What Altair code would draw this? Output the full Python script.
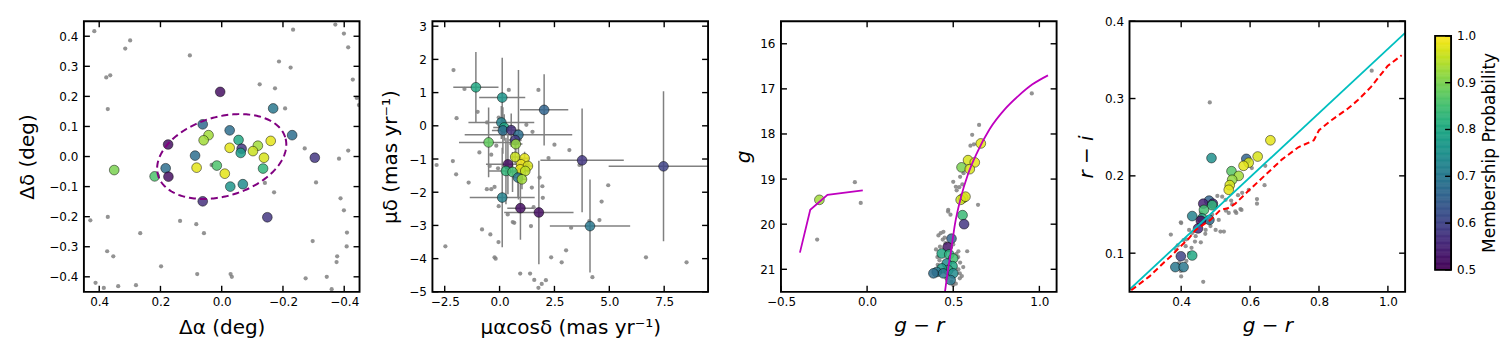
import altair as alt
import pandas as pd
import numpy as np

W, H = 276, 271
FONT = "DejaVu Sans"
GRAY = "#808080"
MINUS = "\u2212"

# ---------------- Panel 1 : sky positions ----------------
P1_FIELD_X = [0.416, 0.299, 0.315, 0.377, 0.364, 0.104, 0.372, 0.372, 0.429, 0.266, 0.374, 0.354, 0.412,
              0.385, 0.338, 0.280, 0.198, 0.136, 0.083, 0.058, 0.080, -0.029, -0.033, -0.124, -0.174,
              -0.187, -0.225, -0.233, -0.207, -0.271, -0.308, -0.141, -0.171, -0.297, -0.274, -0.343,
              -0.359, -0.375, -0.377, -0.388, -0.399, -0.408, -0.409, -0.383, -0.413, -0.413, -0.399,
              -0.371, -0.428, -0.441, -0.448, 0.033]
P1_FIELD_Y = [0.417, 0.386, 0.359, 0.263, 0.270, 0.336, 0.158, -0.201, -0.212, -0.255, -0.315, -0.332,
              -0.420, -0.437, -0.431, -0.428, -0.365, -0.214, -0.225, -0.255, -0.391, -0.391, -0.400,
              0.240, 0.227, 0.316, 0.296, 0.422, 0.160, 0.027, -0.086, -0.088, -0.119, -0.281, -0.405,
              -0.400, -0.441, -0.351, -0.332, -0.139, -0.179, -0.299, -0.253, -0.007, 0.020, 0.363,
              0.409, 0.439, 0.256, 0.195, 0.171, -0.028]
P1_MEM_X = [0.005, -0.168, 0.062, -0.026, -0.230, 0.043, 0.059, -0.055, -0.160, -0.118, 0.175, -0.026,
            -0.065, -0.102, -0.062, 0.087, -0.138, -0.304, 0.351, 0.082, 0.016, 0.183, -0.135, 0.219,
            0.174, -0.010, -0.028, -0.069, 0.062, -0.149]
P1_MEM_Y = [0.215, 0.160, 0.107, 0.087, 0.071, 0.071, 0.054, 0.055, 0.052, 0.036, 0.040, 0.029, 0.026,
            0.018, 0.012, 0.003, -0.004, -0.004, -0.045, -0.037, -0.030, -0.039, -0.040, -0.066, -0.067,
            -0.057, -0.100, -0.092, -0.149, -0.202]
P1_MEM_P = [0.52, 0.70, 0.67, 0.68, 0.68, 0.93, 0.93, 0.80, 0.98, 0.93, 0.52, 0.98, 0.58, 0.96, 0.78,
            0.68, 0.97, 0.58, 0.90, 0.98, 0.86, 0.68, 0.83, 0.86, 0.52, 0.98, 0.76, 0.74, 0.57, 0.58]
ELLIPSE_CENTER = [0.0, 0.0]
ELLIPSE_AXES = [0.217, 0.1315]
ELLIPSE_ANGLE = 17.2

# ---------------- Panel 2 : proper motions ----------------
P2_FIELD_X = [-2.1, -1.6, -1.96, -1.0, 0.42, 1.77, 1.22, 1.5, 2.5, 3.18, 2.23, 4.95, 4.65, 3.64, 1.95,
              1.97, 1.55, 1.47, 1.82, -2.87, -2.13, -1.98, -1.41, -0.92, -0.38, -0.45, -0.57, -0.04,
              -0.15, -0.58, -0.38, -0.23, -0.04, 0.37, 0.67, 1.43, -0.8, -0.42, -0.05, -0.23, -0.18,
              -2.47, 2.35, 2.83, 3.03, 3.26, 4.09, 4.55, 4.23, 1.39, 1.58, 1.77, 1.92, 2.11, 0.94, 6.67,
              8.52, -0.07, 0.6]
P2_FIELD_Y = [1.68, 1.11, 0.23, 0.42, 1.08, 1.08, 0.03, -0.18, -0.57, -0.73, -0.97, -1.79, -2.28, -1.18,
              -1.82, -2.17, -2.45, -1.86, -1.56, -1.18, -1.06, -1.46, -1.71, -0.8, -0.87, -1.21, 0.1,
              0.25, -0.6, -1.91, -1.91, -1.84, -2.42, -2.67, -2.92, -3.02, -3.12, -3.27, -3.5, -3.96,
              -4.0, -3.63, -3.96, -4.11, -3.75, -3.07, -2.87, -2.84, -4.56, -4.45, -4.64, -4.88, -4.76,
              -4.65, -4.45, -3.96, -4.11, -1.28, -2.9]
P2_MEM_X = [-1.08, 0.12, 2.03, 0.08, 0.21, 0.15, 0.53, 0.86, -0.5, 0.71, 0.74, 0.71, 1.14, 0.98, 1.29,
            0.94, 1.17, 0.38, 0.29, 0.59, 0.84, 1.02, 0.12, 0.95, 1.79, 3.76, 4.12, 7.47]
P2_MEM_Y = [1.16, 0.85, 0.48, 0.10, -0.05, -0.14, -0.13, -0.27, -0.50, -0.43, -0.55, -0.94, -0.98, -1.16,
            -1.21, -1.31, -1.36, -1.16, -1.36, -1.39, -1.56, -1.61, -2.16, -2.48, -2.61, -1.04, -3.02,
            -1.22]
P2_MEM_XERR = [1.03, 1.05, 1.10, 1.50, 0.50, 0.50, 0.40, 2.45, 1.35, 0.30, 0.30, 0.20, 0.20, 0.20, 0.20,
               0.20, 0.20, 1.00, 0.80, 0.30, 0.20, 0.20, 1.48, 0.60, 1.58, 1.90, 1.83, 2.50]
P2_MEM_YERR = [1.06, 1.20, 1.07, 0.50, 0.40, 0.70, 0.50, 1.95, 1.05, 0.30, 0.30, 0.20, 0.20, 0.20, 0.20,
               0.20, 0.20, 0.90, 1.00, 0.60, 0.60, 0.30, 1.50, 0.95, 1.56, 1.56, 1.40, 2.26]
P2_MEM_P = [0.80, 0.76, 0.66, 0.72, 0.80, 0.68, 0.57, 0.68, 0.88, 0.58, 0.92, 0.96, 0.98, 0.99, 0.97,
            0.98, 0.95, 0.52, 0.83, 0.85, 0.70, 0.93, 0.72, 0.52, 0.52, 0.58, 0.70, 0.60]

# ---------------- Panel 3 : CMD ----------------
P3_FIELD_X = [0.956, 0.65, 0.61, 0.60, 0.62, 0.50, 0.515, 0.535, 0.553, 0.644, 0.471, 0.484, 0.443, 0.427,
              0.414, 0.439, 0.581, 0.40, 0.408, 0.519, 0.529, 0.538, 0.558, 0.538, 0.515, 0.49, 0.423,
              -0.071, -0.037, -0.29, 0.47, 0.52, 0.455, 0.42, 0.41, 0.53, 0.55, 0.50, 0.45, 0.50, 0.54,
              0.46, 0.53, 0.56, 0.54]
P3_FIELD_G = [17.10, 17.80, 18.02, 18.26, 18.23, 19.06, 19.17, 19.18, 19.12, 19.57, 19.68, 19.79, 20.17,
              20.20, 20.25, 20.34, 20.60, 20.56, 20.73, 20.66, 20.73, 21.09, 20.95, 21.20, 21.32, 21.28,
              20.50, 19.07, 19.53, 20.34, 19.72, 19.25, 20.42, 20.80, 20.90, 21.00, 21.15, 21.35, 20.30,
              20.45, 20.85, 21.20, 20.60, 18.87, 18.95]
P3_MEM_X = [0.66, 0.586, 0.625, 0.548, 0.596, 0.558, 0.543, 0.571, -0.277, 0.554, 0.563, 0.49, 0.467,
            0.433, 0.477, 0.50, 0.462, 0.496, 0.471, 0.433, 0.404, 0.385, 0.442, 0.50, 0.485]
P3_MEM_G = [18.21, 18.58, 18.63, 18.74, 18.78, 19.42, 19.46, 19.39, 19.46, 19.80, 20.00, 20.32, 20.51,
            20.65, 20.67, 20.76, 20.87, 20.93, 21.02, 20.98, 21.06, 21.09, 21.09, 21.09, 21.24]
P3_MEM_P = [0.98, 0.97, 0.98, 0.90, 0.97, 0.97, 0.96, 0.97, 0.93, 0.84, 0.58, 0.66, 0.53, 0.80, 0.82,
            0.85, 0.74, 0.80, 0.82, 0.78, 0.70, 0.68, 0.70, 0.74, 0.70]
ISO_MS_X = [0.452, 0.47, 0.487, 0.51, 0.545, 0.585, 0.64, 0.71, 0.80, 0.88, 0.96, 1.05]
ISO_MS_G = [21.5, 21.0, 20.6, 20.0, 19.4, 18.9, 18.4, 17.9, 17.45, 17.15, 16.9, 16.7]
ISO_HB_X = [-0.39, -0.33, -0.23, -0.025]
ISO_HB_G = [20.63, 19.68, 19.35, 19.25]

# ---------------- Panel 4 : colour-colour ----------------
P4_FIELD_X = [0.953, 0.483, 0.464, 0.37, 0.399, 0.432, 0.407, 0.413, 0.423, 0.457, 0.442, 0.471, 0.485,
              0.50, 0.514, 0.524, 0.509, 0.538, 0.557, 0.572, 0.548, 0.529, 0.519, 0.577, 0.596, 0.605,
              0.62, 0.62, 0.644, 0.642, 0.505, 0.399, 0.394, 0.457, 0.423, 0.39, 0.40, 0.43, 0.415, 0.48,
              0.49, 0.53, 0.545, 0.565, 0.50, 0.47, 0.44, 0.385, 0.40, 0.415, 0.575, 0.56]
P4_FIELD_Y = [0.336, 0.295, 0.063, 0.124, 0.14, 0.126, 0.117, 0.109, 0.10, 0.114, 0.122, 0.13, 0.135,
              0.13, 0.128, 0.128, 0.143, 0.152, 0.154, 0.157, 0.163, 0.169, 0.173, 0.178, 0.182, 0.21,
              0.17, 0.164, 0.213, 0.188, 0.174, 0.077, 0.087, 0.152, 0.13, 0.11, 0.139, 0.107, 0.118,
              0.14, 0.15, 0.155, 0.168, 0.175, 0.16, 0.125, 0.115, 0.105, 0.07, 0.09, 0.156, 0.152]
P4_MEM_X = [0.659, 0.622, 0.589, 0.596, 0.581, 0.488, 0.546, 0.567, 0.548, 0.541, 0.538, 0.481, 0.464,
            0.492, 0.49, 0.466, 0.432, 0.461, 0.482, 0.457, 0.449, 0.399, 0.432, 0.383, 0.407]
P4_MEM_Y = [0.246, 0.225, 0.222, 0.217, 0.213, 0.223, 0.206, 0.200, 0.195, 0.188, 0.182, 0.168, 0.164,
            0.164, 0.162, 0.156, 0.148, 0.145, 0.143, 0.142, 0.132, 0.096, 0.097, 0.082, 0.082]
P4_MEM_P = [0.98, 0.97, 0.66, 0.97, 0.98, 0.75, 0.87, 0.93, 0.92, 0.97, 0.98, 0.66, 0.55, 0.56, 0.83,
            0.85, 0.72, 0.80, 0.68, 0.52, 0.56, 0.60, 0.80, 0.70, 0.70]
CYAN_X = [0.25, 1.05]
CYAN_Y = [0.053, 0.385]
RED_X = [0.255, 0.308, 0.35, 0.375, 0.394, 0.42, 0.442, 0.485, 0.514, 0.535, 0.557, 0.596, 0.644, 0.692,
         0.74, 0.785, 0.793, 0.80, 0.836, 0.884, 0.913, 0.951, 0.999, 1.04]
RED_Y = [0.052, 0.07, 0.088, 0.098, 0.107, 0.118, 0.13, 0.143, 0.156, 0.158, 0.164, 0.181, 0.201, 0.221,
         0.237, 0.246, 0.253, 0.259, 0.272, 0.287, 0.298, 0.315, 0.342, 0.356]

CBAR_TICKS = [0.5, 0.6, 0.7, 0.8, 0.9, 1.0]
CBAR_DOMAIN = [0.4531, 1.0314]

CSCALE = alt.Scale(scheme="viridis", domain=[0.5, 1.0])


def ax_x(values, fmt, title, italic=False, ty=36):
    return alt.Axis(values=values, format=fmt, title=title, ticks=False, domain=False, grid=False,
                    labelFlush=False, labelOverlap=False, labelPadding=5, labelFontSize=12,
                    labelFont=FONT, labelColor="black",
                    labelExpr="replace(datum.label, '-', '" + MINUS + "')",
                    titleFontSize=20, titleFont=FONT, titleFontWeight="normal", titleColor="black",
                    titleFontStyle="italic" if italic else "normal",
                    titleX=W / 2, titleY=ty, titleBaseline="middle", titleAlign="center", titleAngle=0)


def ax_y(values, fmt, title, tx, italic=False):
    return alt.Axis(values=values, format=fmt, title=title, ticks=False, domain=False, grid=False,
                    labelFlush=False, labelOverlap=False, labelPadding=6, labelFontSize=12,
                    labelFont=FONT, labelColor="black",
                    labelExpr="replace(datum.label, '-', '" + MINUS + "')",
                    titleFontSize=20, titleFont=FONT, titleFontWeight="normal", titleColor="black",
                    titleFontStyle="italic" if italic else "normal",
                    titleX=tx, titleY=H / 2, titleBaseline="middle", titleAlign="center", titleAngle=270)


def make_enc(scale, axis, channel):
    def f(field):
        if channel == "x":
            return alt.X(f"{field}:Q", scale=scale, axis=axis)
        return alt.Y(f"{field}:Q", scale=scale, axis=axis)
    return f


def tick_layers(xvals, yvals, X, Y, L=6):
    xt = pd.DataFrame({"v": xvals})
    yt = pd.DataFrame({"v": yvals})
    tk = dict(color="black", strokeWidth=1.4)
    frame = alt.Chart(pd.DataFrame({"k": [0]})).mark_rect(
        fillOpacity=0, stroke="black", strokeWidth=1.9).encode(
        x=alt.value(0), x2=alt.value(W), y=alt.value(0), y2=alt.value(H))
    return [
        alt.Chart(xt).mark_rule(**tk).encode(x=X("v"), y=alt.value(0), y2=alt.value(L)),
        alt.Chart(xt).mark_rule(**tk).encode(x=X("v"), y=alt.value(H), y2=alt.value(H - L)),
        alt.Chart(yt).mark_rule(**tk).encode(y=Y("v"), x=alt.value(0), x2=alt.value(L)),
        alt.Chart(yt).mark_rule(**tk).encode(y=Y("v"), x=alt.value(W), x2=alt.value(W - L)),
        frame,
    ]


def gray_layer(df, X, Y):
    return alt.Chart(df).mark_circle(size=18, color=GRAY, opacity=0.85, clip=True).encode(
        x=X("x"), y=Y("y"))


def member_layer(df, X, Y):
    return alt.Chart(df).mark_circle(size=95, fillOpacity=0.85, stroke="black", strokeWidth=0.6,
                                     strokeOpacity=0.8, clip=True).encode(
        x=X("x"), y=Y("y"), color=alt.Color("p:Q", scale=CSCALE, legend=None))


# ---------- Panel 1 ----------
x1t = [-0.4, -0.2, 0.0, 0.2, 0.4]
y1t = [-0.4, -0.3, -0.2, -0.1, 0.0, 0.1, 0.2, 0.3, 0.4]
X1 = make_enc(alt.Scale(domain=[-0.45, 0.45], reverse=True, nice=False, zero=False),
              ax_x(x1t, ".1f", "\u0394\u03b1 (deg)"), "x")
Y1 = make_enc(alt.Scale(domain=[-0.45, 0.45], nice=False, zero=False),
              ax_y(y1t, ".1f", "\u0394\u03b4 (deg)", -56), "y")
t = np.linspace(0, 2 * np.pi, 241)
th = np.deg2rad(ELLIPSE_ANGLE)
a, b = ELLIPSE_AXES
u = a * np.cos(th) * np.cos(t) - b * np.sin(th) * np.sin(t)
v = a * np.sin(th) * np.cos(t) + b * np.cos(th) * np.sin(t)
ell = pd.DataFrame({"x": ELLIPSE_CENTER[0] - u, "y": ELLIPSE_CENTER[1] + v, "i": np.arange(len(t))})
p1 = alt.layer(
    gray_layer(pd.DataFrame({"x": P1_FIELD_X, "y": P1_FIELD_Y}), X1, Y1),
    member_layer(pd.DataFrame({"x": P1_MEM_X, "y": P1_MEM_Y, "p": P1_MEM_P}), X1, Y1),
    alt.Chart(ell).mark_line(color="#800080", strokeDash=[7, 4], strokeWidth=2).encode(
        x=X1("x"), y=Y1("y"), order="i:Q"),
    *tick_layers(x1t, y1t, X1, Y1),
).properties(width=W, height=H)

# ---------- Panel 2 ----------
x2t = [-2.5, 0.0, 2.5, 5.0, 7.5]
y2t = [-5, -4, -3, -2, -1, 0, 1, 2, 3]
X2 = make_enc(alt.Scale(domain=[-3.06, 9.5], nice=False, zero=False),
              ax_x(x2t, ".1f", "\u03bc\u03b1cos\u03b4 (mas yr\u207b\u00b9)"), "x")
Y2 = make_enc(alt.Scale(domain=[-5.0, 3.15], nice=False, zero=False),
              ax_y(y2t, "d", "\u03bc\u03b4 (mas yr\u207b\u00b9)", -42), "y")
m2 = pd.DataFrame({"x": P2_MEM_X, "y": P2_MEM_Y, "p": P2_MEM_P,
                   "xe": P2_MEM_XERR, "ye": P2_MEM_YERR})
m2["xlo"] = m2.x - m2.xe
m2["xhi"] = m2.x + m2.xe
m2["ylo"] = m2.y - m2.ye
m2["yhi"] = m2.y + m2.ye
p2 = alt.layer(
    gray_layer(pd.DataFrame({"x": P2_FIELD_X, "y": P2_FIELD_Y}), X2, Y2),
    alt.Chart(m2).mark_rule(color=GRAY, strokeWidth=1.5, clip=True).encode(
        x=X2("xlo"), x2="xhi", y=Y2("y")),
    alt.Chart(m2).mark_rule(color=GRAY, strokeWidth=1.5, clip=True).encode(
        x=X2("x"), y=Y2("ylo"), y2="yhi"),
    member_layer(m2, X2, Y2),
    *tick_layers(x2t, y2t, X2, Y2),
).properties(width=W, height=H)

# ---------- Panel 3 ----------
x3t = [-0.5, 0.0, 0.5, 1.0]
y3t = [16, 17, 18, 19, 20, 21]
X3 = make_enc(alt.Scale(domain=[-0.5, 1.1], nice=False, zero=False),
              ax_x(x3t, ".1f", "g \u2212 r", italic=True, ty=34), "x")
Y3 = make_enc(alt.Scale(domain=[15.5, 21.5], reverse=True, nice=False, zero=False),
              ax_y(y3t, "d", "g", -38, italic=True), "y")
ms = pd.DataFrame({"x": ISO_MS_X, "y": ISO_MS_G, "i": range(len(ISO_MS_X))})
hb = pd.DataFrame({"x": ISO_HB_X, "y": ISO_HB_G, "i": range(len(ISO_HB_X))})
p3 = alt.layer(
    gray_layer(pd.DataFrame({"x": P3_FIELD_X, "y": P3_FIELD_G}), X3, Y3),
    member_layer(pd.DataFrame({"x": P3_MEM_X, "y": P3_MEM_G, "p": P3_MEM_P}), X3, Y3),
    alt.Chart(ms).mark_line(color="#bf00bf", strokeWidth=1.8, interpolate="monotone", clip=True).encode(
        x=X3("x"), y=Y3("y"), order="i:Q"),
    alt.Chart(hb).mark_line(color="#bf00bf", strokeWidth=1.8, clip=True).encode(
        x=X3("x"), y=Y3("y"), order="i:Q"),
    *tick_layers(x3t, y3t, X3, Y3),
).properties(width=W, height=H)

# ---------- Panel 4 ----------
x4t = [0.4, 0.6, 0.8, 1.0]
y4t = [0.1, 0.2, 0.3, 0.4]
X4 = make_enc(alt.Scale(domain=[0.25, 1.05], nice=False, zero=False),
              ax_x(x4t, ".1f", "g \u2212 r", italic=True, ty=34), "x")
Y4 = make_enc(alt.Scale(domain=[0.05, 0.4], nice=False, zero=False),
              ax_y(y4t, ".1f", "r \u2212 i", -43, italic=True), "y")
main4 = alt.layer(
    gray_layer(pd.DataFrame({"x": P4_FIELD_X, "y": P4_FIELD_Y}), X4, Y4),
    member_layer(pd.DataFrame({"x": P4_MEM_X, "y": P4_MEM_Y, "p": P4_MEM_P}), X4, Y4),
    alt.Chart(pd.DataFrame({"x": CYAN_X, "y": CYAN_Y})).mark_line(
        color="#00bfbf", strokeWidth=1.8, clip=True).encode(x=X4("x"), y=Y4("y")),
    alt.Chart(pd.DataFrame({"x": RED_X, "y": RED_Y, "i": range(len(RED_X))})).mark_line(
        color="#ff0000", strokeWidth=2, strokeDash=[6, 3.5], clip=True).encode(
        x=X4("x"), y=Y4("y"), order="i:Q"),
    *tick_layers(x4t, y4t, X4, Y4),
)

# colour bar (drawn to the right of panel 4)
CBS = alt.Scale(domain=CBAR_DOMAIN, nice=False, zero=False)
lo = np.round(np.arange(0.5, 1.0, 0.0025), 4)
cbd = pd.DataFrame({"lo": lo, "hi": lo + 0.0025, "c": lo + 0.00125})
cbt = pd.DataFrame({"v": CBAR_TICKS, "t": [f"{x:.1f}" for x in CBAR_TICKS]})
cb = alt.layer(
    alt.Chart(cbd).mark_rect(strokeWidth=0.6).encode(
        y=alt.Y("lo:Q", scale=CBS, axis=None), y2="hi",
        x=alt.value(306), x2=alt.value(322),
        color=alt.Color("c:Q", scale=CSCALE, legend=None),
        stroke=alt.Stroke("c:Q", scale=CSCALE, legend=None)),
    alt.Chart(pd.DataFrame({"lo": [0.5], "hi": [1.0]})).mark_rect(
        fillOpacity=0, stroke="black", strokeWidth=1.9).encode(
        y=alt.Y("lo:Q", scale=CBS, axis=None), y2="hi", x=alt.value(306), x2=alt.value(322)),
    alt.Chart(cbt).mark_rule(color="black", strokeWidth=1.4).encode(
        y=alt.Y("v:Q", scale=CBS, axis=None), x=alt.value(316), x2=alt.value(322)),
    alt.Chart(cbt).mark_text(align="left", baseline="middle", fontSize=12, font=FONT,
                             color="black").encode(
        y=alt.Y("v:Q", scale=CBS, axis=None), x=alt.value(328), text="t:N"),
    alt.Chart(pd.DataFrame({"v": [0.75], "t": ["Membership Probability"]})).mark_text(
        angle=270, align="center", baseline="middle", fontSize=17, font=FONT, color="black").encode(
        y=alt.Y("v:Q", scale=CBS, axis=None), x=alt.value(361), text="t:N"),
)
p4 = alt.layer(main4, cb).resolve_scale(y="independent").properties(width=W, height=H)

chart = alt.hconcat(p1, p2, p3, p4, spacing=73, bounds="flush").properties(
    padding={"left": 9, "top": 6, "right": 5, "bottom": 5}, background="white"
).configure_view(stroke="transparent")

chart.save("out.html", embed_options={"renderer": "svg", "actions": False})
